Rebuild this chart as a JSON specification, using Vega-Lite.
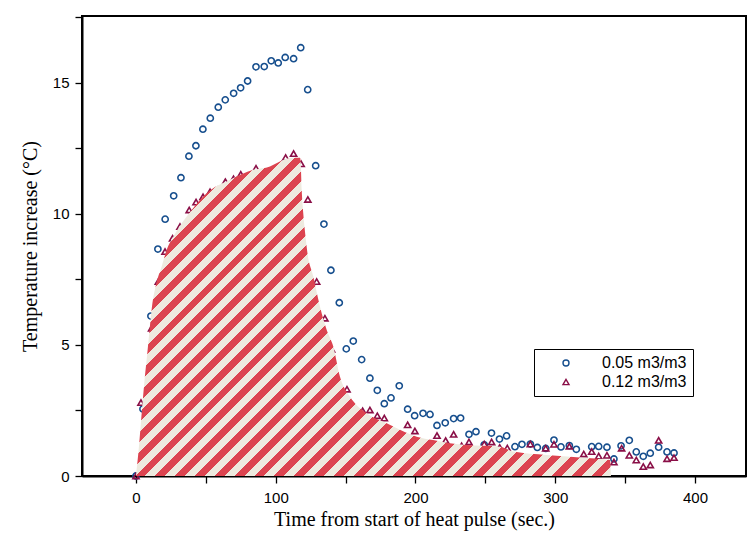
{
  "$schema": "https://vega.github.io/schema/vega-lite/v6.json",
  "width": 664,
  "height": 460,
  "autosize": "none",
  "padding": {"left": 82, "top": 16, "right": 7, "bottom": 60},
  "background": "white",
  "config": {
    "view": {"stroke": "black", "strokeWidth": 2},
    "axis": {
      "domainColor": "black", "domainWidth": 2, "tickColor": "black", "tickWidth": 1.3, "tickSize": 7,
      "labelFont": "Liberation Sans", "labelFontSize": 15, "labelColor": "black", "grid": false,
      "titleFont": "Liberation Serif", "titleFontSize": 20, "titleFontWeight": "normal", "titleColor": "black"
    },
    "legend": {
      "orient": "none", "legendX": 452, "legendY": 333, "padding": 6,
      "strokeColor": "black", "strokeWidth": 1, "fillColor": "white",
      "symbolOffset": 18, "labelOffset": 28, "rowPadding": 3,
      "labelFont": "Liberation Sans", "labelFontSize": 16, "labelColor": "black",
      "symbolSize": 36, "symbolStrokeWidth": 1.4, "symbolOpacity": 1, "title": null
    }
  },
  "datasets": {
    "pts": [
      {"t": 0, "v": 0, "series": "0.05 m3/m3"},
      {"t": 5, "v": 2.56, "series": "0.05 m3/m3"},
      {"t": 10.7, "v": 6.1, "series": "0.05 m3/m3"},
      {"t": 15.7, "v": 8.66, "series": "0.05 m3/m3"},
      {"t": 20.9, "v": 9.8, "series": "0.05 m3/m3"},
      {"t": 27.0, "v": 10.69, "series": "0.05 m3/m3"},
      {"t": 32.2, "v": 11.38, "series": "0.05 m3/m3"},
      {"t": 37.9, "v": 12.2, "series": "0.05 m3/m3"},
      {"t": 42.9, "v": 12.6, "series": "0.05 m3/m3"},
      {"t": 47.9, "v": 13.23, "series": "0.05 m3/m3"},
      {"t": 53.2, "v": 13.65, "series": "0.05 m3/m3"},
      {"t": 58.9, "v": 14.07, "series": "0.05 m3/m3"},
      {"t": 63.9, "v": 14.35, "series": "0.05 m3/m3"},
      {"t": 69.9, "v": 14.6, "series": "0.05 m3/m3"},
      {"t": 74.9, "v": 14.81, "series": "0.05 m3/m3"},
      {"t": 79.9, "v": 15.07, "series": "0.05 m3/m3"},
      {"t": 85.9, "v": 15.61, "series": "0.05 m3/m3"},
      {"t": 91.8, "v": 15.62, "series": "0.05 m3/m3"},
      {"t": 96.8, "v": 15.84, "series": "0.05 m3/m3"},
      {"t": 101.8, "v": 15.76, "series": "0.05 m3/m3"},
      {"t": 106.8, "v": 15.97, "series": "0.05 m3/m3"},
      {"t": 112.8, "v": 15.92, "series": "0.05 m3/m3"},
      {"t": 117.9, "v": 16.34, "series": "0.05 m3/m3"},
      {"t": 122.9, "v": 14.74, "series": "0.05 m3/m3"},
      {"t": 128.6, "v": 11.84, "series": "0.05 m3/m3"},
      {"t": 134.5, "v": 9.61, "series": "0.05 m3/m3"},
      {"t": 139.5, "v": 7.85, "series": "0.05 m3/m3"},
      {"t": 145.5, "v": 6.61, "series": "0.05 m3/m3"},
      {"t": 150.5, "v": 4.85, "series": "0.05 m3/m3"},
      {"t": 155.5, "v": 5.15, "series": "0.05 m3/m3"},
      {"t": 161.5, "v": 4.44, "series": "0.05 m3/m3"},
      {"t": 167.4, "v": 3.73, "series": "0.05 m3/m3"},
      {"t": 172.7, "v": 3.27, "series": "0.05 m3/m3"},
      {"t": 177.7, "v": 2.76, "series": "0.05 m3/m3"},
      {"t": 182.5, "v": 2.98, "series": "0.05 m3/m3"},
      {"t": 188.4, "v": 3.44, "series": "0.05 m3/m3"},
      {"t": 194.4, "v": 2.55, "series": "0.05 m3/m3"},
      {"t": 199.4, "v": 2.3, "series": "0.05 m3/m3"},
      {"t": 205.4, "v": 2.39, "series": "0.05 m3/m3"},
      {"t": 210.4, "v": 2.35, "series": "0.05 m3/m3"},
      {"t": 215.4, "v": 1.93, "series": "0.05 m3/m3"},
      {"t": 221.3, "v": 2.03, "series": "0.05 m3/m3"},
      {"t": 227.3, "v": 2.19, "series": "0.05 m3/m3"},
      {"t": 232.3, "v": 2.21, "series": "0.05 m3/m3"},
      {"t": 238.3, "v": 1.59, "series": "0.05 m3/m3"},
      {"t": 243.3, "v": 1.69, "series": "0.05 m3/m3"},
      {"t": 249.2, "v": 1.19, "series": "0.05 m3/m3"},
      {"t": 254.4, "v": 1.64, "series": "0.05 m3/m3"},
      {"t": 260.1, "v": 1.41, "series": "0.05 m3/m3"},
      {"t": 265.2, "v": 1.53, "series": "0.05 m3/m3"},
      {"t": 271.2, "v": 1.12, "series": "0.05 m3/m3"},
      {"t": 276.2, "v": 1.21, "series": "0.05 m3/m3"},
      {"t": 282.2, "v": 1.22, "series": "0.05 m3/m3"},
      {"t": 287.2, "v": 1.09, "series": "0.05 m3/m3"},
      {"t": 293.2, "v": 1.05, "series": "0.05 m3/m3"},
      {"t": 299.1, "v": 1.37, "series": "0.05 m3/m3"},
      {"t": 304.1, "v": 1.11, "series": "0.05 m3/m3"},
      {"t": 310.1, "v": 1.16, "series": "0.05 m3/m3"},
      {"t": 315.1, "v": 1.02, "series": "0.05 m3/m3"},
      {"t": 326.1, "v": 1.12, "series": "0.05 m3/m3"},
      {"t": 331.1, "v": 1.13, "series": "0.05 m3/m3"},
      {"t": 337.0, "v": 1.1, "series": "0.05 m3/m3"},
      {"t": 342.0, "v": 0.65, "series": "0.05 m3/m3"},
      {"t": 347.1, "v": 1.15, "series": "0.05 m3/m3"},
      {"t": 353.0, "v": 1.36, "series": "0.05 m3/m3"},
      {"t": 358.0, "v": 0.92, "series": "0.05 m3/m3"},
      {"t": 363.0, "v": 0.75, "series": "0.05 m3/m3"},
      {"t": 368.0, "v": 0.87, "series": "0.05 m3/m3"},
      {"t": 374.0, "v": 1.1, "series": "0.05 m3/m3"},
      {"t": 380.0, "v": 0.92, "series": "0.05 m3/m3"},
      {"t": 385.0, "v": 0.88, "series": "0.05 m3/m3"},
      {"t": 0, "v": 0, "series": "0.12 m3/m3"},
      {"t": 3.6, "v": 2.8, "series": "0.12 m3/m3"},
      {"t": 11.2, "v": 5.64, "series": "0.12 m3/m3"},
      {"t": 16.0, "v": 7.42, "series": "0.12 m3/m3"},
      {"t": 20.8, "v": 8.56, "series": "0.12 m3/m3"},
      {"t": 26.2, "v": 9.07, "series": "0.12 m3/m3"},
      {"t": 31.5, "v": 9.52, "series": "0.12 m3/m3"},
      {"t": 38.1, "v": 10.15, "series": "0.12 m3/m3"},
      {"t": 43.0, "v": 10.45, "series": "0.12 m3/m3"},
      {"t": 48.0, "v": 10.65, "series": "0.12 m3/m3"},
      {"t": 53.0, "v": 10.84, "series": "0.12 m3/m3"},
      {"t": 58.7, "v": 10.92, "series": "0.12 m3/m3"},
      {"t": 64.0, "v": 11.23, "series": "0.12 m3/m3"},
      {"t": 69.8, "v": 11.34, "series": "0.12 m3/m3"},
      {"t": 75.0, "v": 11.51, "series": "0.12 m3/m3"},
      {"t": 85.9, "v": 11.74, "series": "0.12 m3/m3"},
      {"t": 107.1, "v": 12.15, "series": "0.12 m3/m3"},
      {"t": 112.8, "v": 12.3, "series": "0.12 m3/m3"},
      {"t": 118.2, "v": 11.91, "series": "0.12 m3/m3"},
      {"t": 123.0, "v": 10.55, "series": "0.12 m3/m3"},
      {"t": 129.3, "v": 7.42, "series": "0.12 m3/m3"},
      {"t": 135.2, "v": 6.02, "series": "0.12 m3/m3"},
      {"t": 140.0, "v": 4.83, "series": "0.12 m3/m3"},
      {"t": 151.0, "v": 3.31, "series": "0.12 m3/m3"},
      {"t": 162.2, "v": 2.49, "series": "0.12 m3/m3"},
      {"t": 167.4, "v": 2.52, "series": "0.12 m3/m3"},
      {"t": 172.7, "v": 2.3, "series": "0.12 m3/m3"},
      {"t": 177.7, "v": 2.21, "series": "0.12 m3/m3"},
      {"t": 194.4, "v": 1.95, "series": "0.12 m3/m3"},
      {"t": 199.6, "v": 1.72, "series": "0.12 m3/m3"},
      {"t": 215.4, "v": 1.54, "series": "0.12 m3/m3"},
      {"t": 221.6, "v": 1.35, "series": "0.12 m3/m3"},
      {"t": 227.3, "v": 1.59, "series": "0.12 m3/m3"},
      {"t": 233.0, "v": 1.15, "series": "0.12 m3/m3"},
      {"t": 238.3, "v": 1.3, "series": "0.12 m3/m3"},
      {"t": 249.2, "v": 1.22, "series": "0.12 m3/m3"},
      {"t": 254.5, "v": 1.3, "series": "0.12 m3/m3"},
      {"t": 260.3, "v": 1.09, "series": "0.12 m3/m3"},
      {"t": 265.7, "v": 1.07, "series": "0.12 m3/m3"},
      {"t": 282.2, "v": 1.22, "series": "0.12 m3/m3"},
      {"t": 293.2, "v": 1.06, "series": "0.12 m3/m3"},
      {"t": 299.1, "v": 1.21, "series": "0.12 m3/m3"},
      {"t": 310.1, "v": 1.13, "series": "0.12 m3/m3"},
      {"t": 320.4, "v": 0.84, "series": "0.12 m3/m3"},
      {"t": 326.1, "v": 0.93, "series": "0.12 m3/m3"},
      {"t": 331.1, "v": 0.76, "series": "0.12 m3/m3"},
      {"t": 337.0, "v": 0.79, "series": "0.12 m3/m3"},
      {"t": 342.0, "v": 0.53, "series": "0.12 m3/m3"},
      {"t": 347.5, "v": 1.06, "series": "0.12 m3/m3"},
      {"t": 353.0, "v": 0.79, "series": "0.12 m3/m3"},
      {"t": 358.0, "v": 0.61, "series": "0.12 m3/m3"},
      {"t": 363.0, "v": 0.36, "series": "0.12 m3/m3"},
      {"t": 368.0, "v": 0.42, "series": "0.12 m3/m3"},
      {"t": 374.0, "v": 1.36, "series": "0.12 m3/m3"},
      {"t": 380.0, "v": 0.66, "series": "0.12 m3/m3"},
      {"t": 385.0, "v": 0.7, "series": "0.12 m3/m3"}
    ],
    "fit": [
      {"t": 0, "v": 0},
      {"t": 2.36, "v": 1.25},
      {"t": 4.29, "v": 2.52},
      {"t": 5.94, "v": 3.54},
      {"t": 7.87, "v": 4.55},
      {"t": 9.52, "v": 5.45},
      {"t": 11.45, "v": 6.46},
      {"t": 14.3, "v": 7.29},
      {"t": 18.4, "v": 7.99},
      {"t": 22.0, "v": 8.63},
      {"t": 26.7, "v": 9.13},
      {"t": 36.3, "v": 9.9},
      {"t": 50.6, "v": 10.79},
      {"t": 67.3, "v": 11.3},
      {"t": 83.9, "v": 11.68},
      {"t": 95.9, "v": 11.81},
      {"t": 103.0, "v": 12.0},
      {"t": 110.2, "v": 12.13},
      {"t": 117.4, "v": 12.14},
      {"t": 117.9, "v": 11.94},
      {"t": 118.6, "v": 10.92},
      {"t": 119.7, "v": 10.03},
      {"t": 121.6, "v": 9.01},
      {"t": 122.4, "v": 8.63},
      {"t": 126.9, "v": 7.61},
      {"t": 131.7, "v": 6.46},
      {"t": 136.5, "v": 5.57},
      {"t": 141.2, "v": 4.94},
      {"t": 146.0, "v": 3.79},
      {"t": 153.1, "v": 3.03},
      {"t": 165.1, "v": 2.39},
      {"t": 179.4, "v": 2.01},
      {"t": 188.9, "v": 1.76},
      {"t": 200.9, "v": 1.5},
      {"t": 212.7, "v": 1.37},
      {"t": 224.7, "v": 1.25},
      {"t": 236.6, "v": 1.18},
      {"t": 260.5, "v": 1.12},
      {"t": 270.0, "v": 0.93},
      {"t": 293.9, "v": 0.8},
      {"t": 317.7, "v": 0.71},
      {"t": 339.2, "v": 0.61},
      {"t": 339.9, "v": 0}
    ]
  },
  "encoding": {
    "x": {
      "field": "t", "type": "quantitative",
      "scale": {"domain": [-38.6, 436.5], "nice": false, "zero": false},
      "axis": {
        "title": "Time from start of heat pulse (sec.)",
        "values": [0, 50, 100, 150, 200, 250, 300, 350, 400],
        "labelExpr": "datum.value % 100 === 0 ? datum.label : ''",
        "labelPadding": 7, "titlePadding": 4
      }
    },
    "y": {
      "field": "v", "type": "quantitative",
      "scale": {"domain": [0, 17.55], "nice": false},
      "axis": {
        "title": "Temperature increase (°C)",
        "values": [0, 2.5, 5, 7.5, 10, 12.5, 15, 17.5],
        "labelExpr": "datum.value % 5 === 0 ? datum.label : ''",
        "labelPadding": 6, "titlePadding": 12
      }
    }
  },
  "layer": [
    {
      "data": {"name": "pts"},
      "mark": {"type": "point", "filled": false, "size": 38, "strokeWidth": 1.6, "opacity": 1},
      "encoding": {
        "color": {"field": "series", "type": "nominal",
          "scale": {"domain": ["0.05 m3/m3", "0.12 m3/m3"], "range": ["#174f8e", "#8a0f47"]}},
        "shape": {"field": "series", "type": "nominal",
          "scale": {"domain": ["0.05 m3/m3", "0.12 m3/m3"], "range": ["circle", "triangle-up"]}}
      }
    },
    {
      "data": {"name": "fit"},
      "mark": {
        "type": "area", "interpolate": "monotone",
        "fill": {
          "gradient": "linear", "x1": 0, "y1": 0, "x2": 1.1527, "y2": 0.772,
          "stops": [
            {"offset": 0, "color": "#dc4450"},
            {"offset": 0.0125, "color": "#dc4450"}, {"offset": 0.0125, "color": "#eeeadf"},
            {"offset": 0.025, "color": "#eeeadf"}, {"offset": 0.025, "color": "#dc4450"},
            {"offset": 0.0375, "color": "#dc4450"}, {"offset": 0.0375, "color": "#eeeadf"},
            {"offset": 0.05, "color": "#eeeadf"}, {"offset": 0.05, "color": "#dc4450"},
            {"offset": 0.0625, "color": "#dc4450"}, {"offset": 0.0625, "color": "#eeeadf"},
            {"offset": 0.075, "color": "#eeeadf"}, {"offset": 0.075, "color": "#dc4450"},
            {"offset": 0.0875, "color": "#dc4450"}, {"offset": 0.0875, "color": "#eeeadf"},
            {"offset": 0.1, "color": "#eeeadf"}, {"offset": 0.1, "color": "#dc4450"},
            {"offset": 0.1125, "color": "#dc4450"}, {"offset": 0.1125, "color": "#eeeadf"},
            {"offset": 0.125, "color": "#eeeadf"}, {"offset": 0.125, "color": "#dc4450"},
            {"offset": 0.1375, "color": "#dc4450"}, {"offset": 0.1375, "color": "#eeeadf"},
            {"offset": 0.15, "color": "#eeeadf"}, {"offset": 0.15, "color": "#dc4450"},
            {"offset": 0.1625, "color": "#dc4450"}, {"offset": 0.1625, "color": "#eeeadf"},
            {"offset": 0.175, "color": "#eeeadf"}, {"offset": 0.175, "color": "#dc4450"},
            {"offset": 0.1875, "color": "#dc4450"}, {"offset": 0.1875, "color": "#eeeadf"},
            {"offset": 0.2, "color": "#eeeadf"}, {"offset": 0.2, "color": "#dc4450"},
            {"offset": 0.2125, "color": "#dc4450"}, {"offset": 0.2125, "color": "#eeeadf"},
            {"offset": 0.225, "color": "#eeeadf"}, {"offset": 0.225, "color": "#dc4450"},
            {"offset": 0.2375, "color": "#dc4450"}, {"offset": 0.2375, "color": "#eeeadf"},
            {"offset": 0.25, "color": "#eeeadf"}, {"offset": 0.25, "color": "#dc4450"},
            {"offset": 0.2625, "color": "#dc4450"}, {"offset": 0.2625, "color": "#eeeadf"},
            {"offset": 0.275, "color": "#eeeadf"}, {"offset": 0.275, "color": "#dc4450"},
            {"offset": 0.2875, "color": "#dc4450"}, {"offset": 0.2875, "color": "#eeeadf"},
            {"offset": 0.3, "color": "#eeeadf"}, {"offset": 0.3, "color": "#dc4450"},
            {"offset": 0.3125, "color": "#dc4450"}, {"offset": 0.3125, "color": "#eeeadf"},
            {"offset": 0.325, "color": "#eeeadf"}, {"offset": 0.325, "color": "#dc4450"},
            {"offset": 0.3375, "color": "#dc4450"}, {"offset": 0.3375, "color": "#eeeadf"},
            {"offset": 0.35, "color": "#eeeadf"}, {"offset": 0.35, "color": "#dc4450"},
            {"offset": 0.3625, "color": "#dc4450"}, {"offset": 0.3625, "color": "#eeeadf"},
            {"offset": 0.375, "color": "#eeeadf"}, {"offset": 0.375, "color": "#dc4450"},
            {"offset": 0.3875, "color": "#dc4450"}, {"offset": 0.3875, "color": "#eeeadf"},
            {"offset": 0.4, "color": "#eeeadf"}, {"offset": 0.4, "color": "#dc4450"},
            {"offset": 0.4125, "color": "#dc4450"}, {"offset": 0.4125, "color": "#eeeadf"},
            {"offset": 0.425, "color": "#eeeadf"}, {"offset": 0.425, "color": "#dc4450"},
            {"offset": 0.4375, "color": "#dc4450"}, {"offset": 0.4375, "color": "#eeeadf"},
            {"offset": 0.45, "color": "#eeeadf"}, {"offset": 0.45, "color": "#dc4450"},
            {"offset": 0.4625, "color": "#dc4450"}, {"offset": 0.4625, "color": "#eeeadf"},
            {"offset": 0.475, "color": "#eeeadf"}, {"offset": 0.475, "color": "#dc4450"},
            {"offset": 0.4875, "color": "#dc4450"}, {"offset": 0.4875, "color": "#eeeadf"},
            {"offset": 0.5, "color": "#eeeadf"}, {"offset": 0.5, "color": "#dc4450"},
            {"offset": 0.5125, "color": "#dc4450"}, {"offset": 0.5125, "color": "#eeeadf"},
            {"offset": 0.525, "color": "#eeeadf"}, {"offset": 0.525, "color": "#dc4450"},
            {"offset": 0.5375, "color": "#dc4450"}, {"offset": 0.5375, "color": "#eeeadf"},
            {"offset": 0.55, "color": "#eeeadf"}, {"offset": 0.55, "color": "#dc4450"},
            {"offset": 0.5625, "color": "#dc4450"}, {"offset": 0.5625, "color": "#eeeadf"},
            {"offset": 0.575, "color": "#eeeadf"}, {"offset": 0.575, "color": "#dc4450"},
            {"offset": 0.5875, "color": "#dc4450"}, {"offset": 0.5875, "color": "#eeeadf"},
            {"offset": 0.6, "color": "#eeeadf"}, {"offset": 0.6, "color": "#dc4450"},
            {"offset": 0.6125, "color": "#dc4450"}, {"offset": 0.6125, "color": "#eeeadf"},
            {"offset": 0.625, "color": "#eeeadf"}, {"offset": 0.625, "color": "#dc4450"},
            {"offset": 0.6375, "color": "#dc4450"}, {"offset": 0.6375, "color": "#eeeadf"},
            {"offset": 0.65, "color": "#eeeadf"}, {"offset": 0.65, "color": "#dc4450"},
            {"offset": 0.6625, "color": "#dc4450"}, {"offset": 0.6625, "color": "#eeeadf"},
            {"offset": 0.675, "color": "#eeeadf"}, {"offset": 0.675, "color": "#dc4450"},
            {"offset": 0.6875, "color": "#dc4450"}, {"offset": 0.6875, "color": "#eeeadf"},
            {"offset": 0.7, "color": "#eeeadf"}, {"offset": 0.7, "color": "#dc4450"},
            {"offset": 0.7125, "color": "#dc4450"}, {"offset": 0.7125, "color": "#eeeadf"},
            {"offset": 0.725, "color": "#eeeadf"}, {"offset": 0.725, "color": "#dc4450"},
            {"offset": 0.7375, "color": "#dc4450"}, {"offset": 0.7375, "color": "#eeeadf"},
            {"offset": 0.75, "color": "#eeeadf"}, {"offset": 0.75, "color": "#dc4450"},
            {"offset": 0.7625, "color": "#dc4450"}, {"offset": 0.7625, "color": "#eeeadf"},
            {"offset": 0.775, "color": "#eeeadf"}, {"offset": 0.775, "color": "#dc4450"},
            {"offset": 0.7875, "color": "#dc4450"}, {"offset": 0.7875, "color": "#eeeadf"},
            {"offset": 0.8, "color": "#eeeadf"}, {"offset": 0.8, "color": "#dc4450"},
            {"offset": 0.8125, "color": "#dc4450"}, {"offset": 0.8125, "color": "#eeeadf"},
            {"offset": 0.825, "color": "#eeeadf"}, {"offset": 0.825, "color": "#dc4450"},
            {"offset": 0.8375, "color": "#dc4450"}, {"offset": 0.8375, "color": "#eeeadf"},
            {"offset": 0.85, "color": "#eeeadf"}, {"offset": 0.85, "color": "#dc4450"},
            {"offset": 0.8625, "color": "#dc4450"}, {"offset": 0.8625, "color": "#eeeadf"},
            {"offset": 0.875, "color": "#eeeadf"}, {"offset": 0.875, "color": "#dc4450"},
            {"offset": 0.8875, "color": "#dc4450"}, {"offset": 0.8875, "color": "#eeeadf"},
            {"offset": 0.9, "color": "#eeeadf"}, {"offset": 0.9, "color": "#dc4450"},
            {"offset": 0.9125, "color": "#dc4450"}, {"offset": 0.9125, "color": "#eeeadf"},
            {"offset": 0.925, "color": "#eeeadf"}, {"offset": 0.925, "color": "#dc4450"},
            {"offset": 0.9375, "color": "#dc4450"}, {"offset": 0.9375, "color": "#eeeadf"},
            {"offset": 0.95, "color": "#eeeadf"}, {"offset": 0.95, "color": "#dc4450"},
            {"offset": 0.9625, "color": "#dc4450"}, {"offset": 0.9625, "color": "#eeeadf"},
            {"offset": 0.975, "color": "#eeeadf"}, {"offset": 0.975, "color": "#dc4450"},
            {"offset": 0.9875, "color": "#dc4450"}, {"offset": 0.9875, "color": "#eeeadf"},
            {"offset": 1, "color": "#eeeadf"}
          ]
        }
      }
    }
  ]
}
